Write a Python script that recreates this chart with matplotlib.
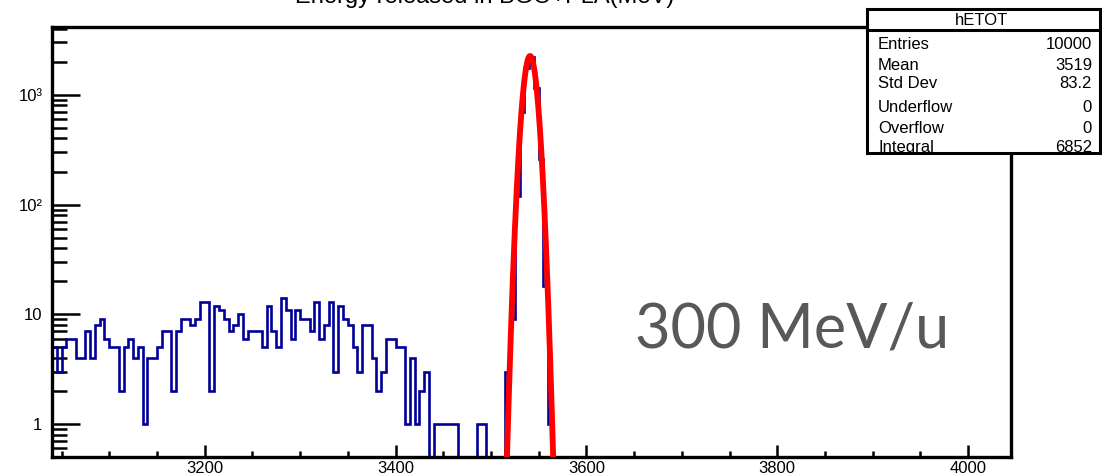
import numpy as np
import matplotlib
matplotlib.use('Agg')
import matplotlib.pyplot as plt
from matplotlib.patches import Rectangle
from matplotlib.lines import Line2D
from matplotlib.ticker import FixedLocator, FixedFormatter, MultipleLocator, LogLocator

plt.rcParams['font.family'] = ['Liberation Sans', 'DejaVu Sans']

# hETOT bin contents, 5 MeV bins from 3040 MeV (empty above 3565)
counts = [5, 3, 5, 6, 6, 4, 4, 7, 4, 8,
          9, 6, 5, 5, 2, 5, 6, 4, 5, 1,
          4, 4, 5, 7, 7, 2, 7, 9, 9, 8,
          9, 13, 13, 2, 12, 11, 9, 7, 8, 10,
          6, 7, 7, 7, 5, 12, 7, 5, 14, 11,
          6, 11, 9, 9, 7, 13, 6, 8, 13, 3,
          12, 9, 8, 5, 3, 8, 8, 4, 2, 3,
          6, 6, 5, 5, 1, 4, 1, 2, 3, 0,
          1, 1, 1, 1, 1, 0, 0, 0, 0, 1,
          1, 0, 0, 0, 0, 3, 9, 120, 690, 1750,
          2200, 1160, 260, 18, 1]
x_lo, x_hi, bin_w = 3040, 4045, 5

# gaussian fit parameters
fit_const = 2260
fit_mean = 3541
fit_sigma = 5.9

stat_names = ['Entries', 'Mean', 'Std Dev', 'Underflow', 'Overflow', 'Integral']
stat_vals = ['10000', '3519', '83.2', '0', '0', '6852']

edges = np.arange(x_lo, x_hi + bin_w, bin_w)
h = np.zeros(len(edges) - 1)
h[:len(counts)] = counts

W, H = 1102, 476
fig = plt.figure(figsize=(W / 100, H / 100), dpi=100)
ax = fig.add_axes([52 / W, 1 - 457 / H, (1011 - 52) / W, (457 - 27) / H])
ax.set_yscale('log', nonpositive='clip')

ax.stairs(h, edges, color='#000099', lw=1.9, baseline=None, zorder=2)

xf = np.linspace(3495, 3590, 600)
yf = fit_const * np.exp(-0.5 * ((xf - fit_mean) / fit_sigma) ** 2)
ax.plot(xf, yf, color='#ff0000', lw=4.2, zorder=3, solid_capstyle='butt')

ax.set_xlim(x_lo, x_hi)
ax.set_ylim(0.5, 4150)

ax.xaxis.set_major_locator(MultipleLocator(200))
ax.xaxis.set_minor_locator(MultipleLocator(50))
ax.yaxis.set_major_locator(FixedLocator([1, 10, 100, 1000]))
ax.yaxis.set_major_formatter(FixedFormatter(['1', '10', '10²', '10³']))
ax.yaxis.set_minor_locator(LogLocator(base=10, subs=np.arange(2, 10)))
ax.yaxis.set_minor_formatter(FixedFormatter([]))

ax.tick_params(axis='both', which='both', direction='in', width=1.8,
               labelsize=12, colors='black')
ax.tick_params(axis='x', which='major', length=8.5, pad=3)
ax.tick_params(axis='x', which='minor', length=4.5)
ax.tick_params(axis='y', which='major', length=20, pad=7)
ax.tick_params(axis='y', which='minor', length=11)
for s in ax.spines.values():
    s.set_linewidth(2.4)

fig.text(485 / W, 1 - 3 / H, 'Energy released in BGO+PLA(MeV)',
         ha='center', va='baseline', fontsize=17)

# stats box
bx0, bx1, by0, by1 = 867, 1100, 9, 153
fig.add_artist(Rectangle((bx0 / W, 1 - by1 / H), (bx1 - bx0) / W, (by1 - by0) / H,
                         transform=fig.transFigure, fc='white', ec='black',
                         lw=2.2, zorder=10))
fig.add_artist(Line2D([bx0 / W, bx1 / W], [1 - 30 / H, 1 - 30 / H],
                      transform=fig.transFigure, color='black', lw=2.2, zorder=11))
fig.text(982 / W, 1 - 25 / H, 'hETOT', ha='center', va='baseline',
         fontsize=12, zorder=12)
baselines = [49, 70, 88, 112, 133, 152]
for name, val, yb in zip(stat_names, stat_vals, baselines):
    fig.text(878 / W, 1 - yb / H, name, ha='left', va='baseline', fontsize=12, zorder=12)
    fig.text(1092 / W, 1 - yb / H, val, ha='right', va='baseline', fontsize=12, zorder=12)

fig.text(635 / W, 1 - 347 / H, '300 MeV/u', ha='left', va='baseline',
         fontsize=44, color='#58585a', family=['Lato', 'DejaVu Sans'])

fig.savefig('out.png', dpi=100)
